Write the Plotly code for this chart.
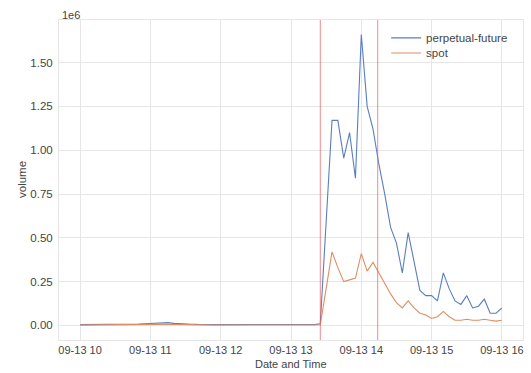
import pandas as pd
import plotly.graph_objects as go

# 5-minute volume samples, 09-13 10:00 .. 16:00 (values in units of 1e6)
times = pd.date_range("2023-09-13 10:00", "2023-09-13 16:00", freq="5min")

perpetual_future = [
    0.005, 0.005, 0.006, 0.005, 0.006, 0.005, 0.006, 0.005, 0.006, 0.006, 0.008, 0.010,
    0.012, 0.015, 0.018, 0.016, 0.012, 0.009, 0.008, 0.007, 0.006, 0.006, 0.005, 0.006,
    0.005, 0.005, 0.006, 0.005, 0.005, 0.006, 0.005, 0.005, 0.006, 0.005, 0.005, 0.005,
    0.006, 0.005, 0.005, 0.006, 0.005, 0.010, 0.60, 1.17, 1.17, 0.955, 1.10, 0.84,
    1.66, 1.25, 1.12, 0.92, 0.75, 0.56, 0.47, 0.30, 0.53, 0.36, 0.20, 0.17,
    0.17, 0.14, 0.30, 0.21, 0.14, 0.12, 0.17, 0.10, 0.11, 0.15, 0.07, 0.07,
    0.10,
]
spot = [
    0.002, 0.002, 0.002, 0.002, 0.002, 0.002, 0.002, 0.002, 0.002, 0.003, 0.003, 0.004,
    0.005, 0.006, 0.007, 0.006, 0.005, 0.004, 0.003, 0.003, 0.002, 0.002, 0.002, 0.002,
    0.002, 0.002, 0.002, 0.002, 0.002, 0.002, 0.002, 0.002, 0.002, 0.002, 0.002, 0.002,
    0.002, 0.002, 0.002, 0.002, 0.002, 0.004, 0.21, 0.42, 0.33, 0.25, 0.26, 0.27,
    0.41, 0.31, 0.36, 0.30, 0.24, 0.18, 0.13, 0.10, 0.14, 0.10, 0.07, 0.06,
    0.04, 0.05, 0.08, 0.05, 0.03, 0.03, 0.035, 0.03, 0.03, 0.035, 0.03, 0.025,
    0.03,
]
scale = 1e6

event_times = ["2023-09-13 13:25", "2023-09-13 14:14"]
hour_ticks = pd.date_range("2023-09-13 10:00", "2023-09-13 16:00", freq="1h")
y_ticks = [0, 0.25, 0.5, 0.75, 1.0, 1.25, 1.5]

BLUE = "#5a7fbd"
ORANGE = "#e08e63"
FONT = "Arial, Liberation Sans, sans-serif"
TEXT = "#444444"
GRID = "#e6e6e6"

fig = go.Figure()
fig.add_trace(go.Scatter(x=times, y=[v * scale for v in perpetual_future], mode="lines",
                         name="perpetual-future", legend="legend",
                         line=dict(color=BLUE, width=1.1)))
fig.add_trace(go.Scatter(x=times, y=[v * scale for v in spot], mode="lines",
                         name="spot", legend="legend2",
                         line=dict(color=ORANGE, width=1.1)))

for t in event_times:
    fig.add_vline(x=pd.Timestamp(t), line=dict(color="rgba(232,90,90,0.7)", width=1))

span = times[-1] - times[0]
pad = span * 0.05
ymax = max(perpetual_future) * scale
ypad = ymax * 0.05

legend_style = dict(xanchor="left", yanchor="middle", bgcolor="rgba(0,0,0,0)",
                    borderwidth=0, font=dict(size=11.5, color=TEXT), itemwidth=30)

fig.update_layout(
    width=531, height=373,
    margin=dict(l=59, r=8, t=20, b=33),
    paper_bgcolor="white", plot_bgcolor="white",
    font=dict(family=FONT, size=11.5, color=TEXT),
    showlegend=True,
    legend=dict(x=0.705, y=0.944, **legend_style),
    legend2=dict(x=0.705, y=0.897, **legend_style),
    xaxis=dict(
        type="date",
        range=[times[0] - pad, times[-1] + pad],
        tickvals=list(hour_ticks),
        ticktext=[t.strftime("%m-%d %H") for t in hour_ticks],
        showgrid=True, gridcolor=GRID, gridwidth=1,
        zeroline=False, ticks="", ticklabelstandoff=0,
        showline=True, linecolor=GRID, mirror=True,
        tickfont=dict(size=11),
    ),
    yaxis=dict(
        range=[-ypad, ymax + ypad],
        tickvals=[v * scale for v in y_ticks],
        ticktext=[f"{v:.2f}" for v in y_ticks],
        showgrid=True, gridcolor=GRID, gridwidth=1,
        zeroline=False, ticks="", ticklabelstandoff=3,
        showline=True, linecolor=GRID, mirror=True,
        tickfont=dict(size=11.5),
    ),
    annotations=[
        dict(text="1e6", xref="paper", yref="paper", x=0, y=1, xanchor="left",
             yanchor="bottom", showarrow=False, font=dict(size=11, color=TEXT),
             xshift=1, yshift=-3),
        dict(text="Date and Time", xref="paper", yref="paper", x=0.5, y=0,
             xanchor="center", yanchor="top", showarrow=False, yshift=-16,
             font=dict(size=11, color=TEXT)),
        dict(text="volume", xref="paper", yref="paper", x=0, y=0.5,
             xanchor="right", yanchor="middle", showarrow=False, textangle=-90,
             xshift=-29, font=dict(size=11.5, color=TEXT)),
    ],
)

fig.write_html("out.html")
